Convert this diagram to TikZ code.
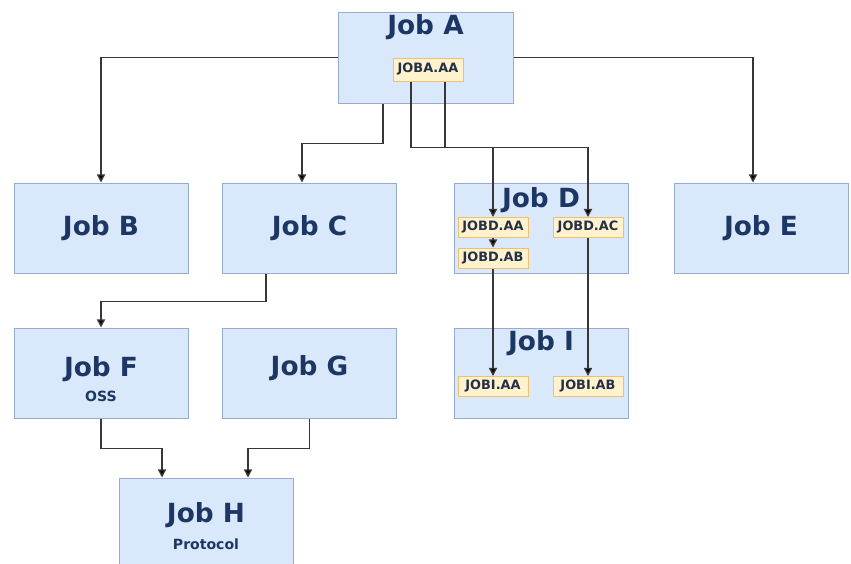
\documentclass[tikz,border=0pt]{standalone}
\usepackage{fontspec}
\setmainfont{DejaVu Sans}
\usetikzlibrary{arrows.meta}
\definecolor{jobfill}{RGB}{218,232,252}
\definecolor{jobline}{RGB}{150,172,208}
\definecolor{jobtext}{RGB}{28,55,100}
\definecolor{partfill}{RGB}{255,242,204}
\definecolor{partline}{RGB}{242,190,112}
\definecolor{parttext}{RGB}{36,48,72}
\definecolor{linkcol}{RGB}{55,55,55}
\begin{document}
\begin{tikzpicture}[x=0.3mm,y=-0.3mm]
\tikzstyle{every node}+=[inner sep=0pt]
\tikzstyle{job}=[draw=jobline,fill=jobfill,line width=0.85pt,minimum width=52.2mm,minimum height=27mm,text=jobtext,font=\fontsize{22.5}{26}\selectfont\bfseries]
\tikzstyle{title}=[text=jobtext,font=\fontsize{22.5}{26}\selectfont\bfseries]
\tikzstyle{sub}=[text=jobtext,font=\fontsize{12}{14}\selectfont\bfseries]
\tikzstyle{part}=[draw=partline,fill=partfill,line width=0.85pt,minimum width=21mm,minimum height=6mm,text=parttext,font=\fontsize{11}{13}\selectfont\bfseries]
\tikzstyle{link}=[draw=linkcol,line width=1.2pt,-{Triangle[width=7pt,length=7pt,fill=black]}]
\useasboundingbox (0,0) rectangle (851,563);
\clip (0,0) rectangle (851,563);
\node[job,minimum width=52.5mm,minimum height=27.3mm] (jobA) at (425.5,57.5) {};
\node[title] (titleA) at (425.5,27) {Job A};
\node[part,minimum height=6.9mm] (jobAaa) at (428,69.5) {JOBA.AA};
\node[job] (jobB) at (101,228) {Job B};
\node[job] (jobC) at (309.5,228) {Job C};
\node[job] (jobD) at (541,228) {};
\node[title] (titleD) at (541,200) {Job D};
\node[part] (jobDaa) at (493,227.5) {JOBD.AA};
\node[part] (jobDab) at (493,258) {JOBD.AB};
\node[part] (jobDac) at (588,227.5) {JOBD.AC};
\node[job] (jobE) at (761,228) {Job E};
\node[job] (jobF) at (101,373) {};
\node[title] (titleF) at (101,369) {Job F};
\node[sub] (subF) at (101,396) {OSS};
\node[job] (jobG) at (309.5,373) {};
\node[title] (titleG) at (309.5,368) {Job G};
\node[job] (jobI) at (541,373) {};
\node[title] (titleI) at (541,343) {Job I};
\node[part] (jobIaa) at (493,386.5) {JOBI.AA};
\node[part] (jobIab) at (588,386.5) {JOBI.AB};
\node[job] (jobH) at (206,523) {};
\node[title] (titleH) at (206,515) {Job H};
\node[sub] (subH) at (206,544) {Protocol};
\draw[link] (jobA.west) -| (jobB.north);
\draw[link] (jobA.east) -| ([xshift=-2.4mm]jobE.north);
\draw[link] ([xshift=-12.75mm]jobA.south) -- ++(0,40) -| ([xshift=-2.25mm]jobC.north);
\draw[link] ([xshift=-5.1mm]jobAaa.south) -- ++(0,66) -| (jobDac.north);
\draw[link] ([xshift=5.1mm]jobAaa.south) -- ++(0,66) -| (jobDaa.north);
\draw[link] (jobDaa) -- (jobDab);
\draw[link] (jobDab) -- (jobIaa);
\draw[link] (jobDac) -- (jobIab);
\draw[link] ([xshift=-13.05mm]jobC.south) -- ++(0,28) -| (jobF.north);
\draw[link] (jobF.south) -- ++(0,30) -| ([xshift=-13.2mm]jobH.north);
\draw[link] (jobG.south) -- ++(0,30) -| ([xshift=12.6mm]jobH.north);
\end{tikzpicture}
\end{document}
